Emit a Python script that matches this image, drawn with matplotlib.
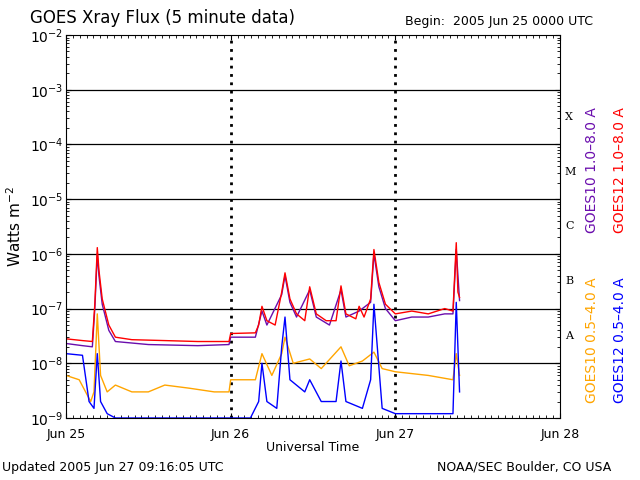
import matplotlib
matplotlib.use("Agg")
import matplotlib.pyplot as plt
import numpy as np

# time in days since 2005 Jun 25 00:00 UTC, flux in W/m^2 (key points)
g12_long_t = [0.0, 0.10, 0.16, 0.175, 0.19, 0.20, 0.22, 0.26, 0.30, 0.40, 0.60, 0.80, 0.99,
              1.00, 1.15, 1.17, 1.19, 1.22, 1.27, 1.31, 1.33, 1.36, 1.40, 1.45, 1.48, 1.52,
              1.58, 1.64, 1.67, 1.70, 1.76, 1.78, 1.81, 1.85, 1.87, 1.90, 1.94, 2.00,
              2.10, 2.20, 2.30, 2.35, 2.37, 2.38, 2.39]
g12_long_v = [2.8e-8, 2.6e-8, 2.5e-8, 1.2e-7, 1.3e-6, 5e-7, 1.5e-7, 5e-8, 3e-8, 2.7e-8, 2.6e-8, 2.5e-8, 2.5e-8,
              3.5e-8, 3.6e-8, 5e-8, 1.1e-7, 6e-8, 5e-8, 2e-7, 4.5e-7, 1.5e-7, 8e-8, 6e-8, 2.5e-7, 8e-8,
              6e-8, 6e-8, 2.6e-7, 8e-8, 6.5e-8, 1.1e-7, 7e-8, 1.5e-7, 1.2e-6, 3e-7, 1.2e-7, 8e-8,
              9e-8, 8e-8, 1e-7, 9e-8, 1.6e-6, 2e-7, 1.6e-7]
g10_long_t = [0.0, 0.10, 0.16, 0.175, 0.19, 0.20, 0.22, 0.26, 0.30, 0.50, 0.80, 0.99,
              1.00, 1.15, 1.19, 1.22, 1.31, 1.33, 1.36, 1.40, 1.48, 1.52, 1.60, 1.67, 1.70,
              1.78, 1.85, 1.87, 1.90, 1.94, 2.00, 2.10, 2.20, 2.30, 2.35, 2.37, 2.39]
g10_long_v = [2.3e-8, 2.1e-8, 2.0e-8, 1.0e-7, 1.0e-6, 4e-7, 1.2e-7, 4e-8, 2.5e-8, 2.2e-8, 2.1e-8, 2.2e-8,
              3e-8, 3e-8, 9e-8, 5e-8, 1.8e-7, 4e-7, 1.3e-7, 7e-8, 2.2e-7, 7e-8, 5e-8, 2.2e-7, 7e-8,
              9e-8, 1.3e-7, 1.0e-6, 2.5e-7, 1e-7, 6e-8, 7e-8, 7e-8, 8e-8, 8e-8, 1.2e-6, 1.4e-7]
g10_short_t = [0.0, 0.08, 0.15, 0.17, 0.19, 0.21, 0.25, 0.30, 0.40, 0.50, 0.60, 0.75, 0.90, 0.99,
               1.00, 1.15, 1.19, 1.25, 1.31, 1.33, 1.38, 1.48, 1.55, 1.67, 1.72, 1.80, 1.87, 1.92,
               2.00, 2.20, 2.35, 2.37, 2.39]
g10_short_v = [6e-9, 5e-9, 2e-9, 3e-9, 8e-8, 6e-9, 3e-9, 4e-9, 3e-9, 3e-9, 4e-9, 3.5e-9, 3e-9, 3e-9,
               5e-9, 5e-9, 1.5e-8, 6e-9, 1.5e-8, 3e-8, 1e-8, 1.2e-8, 8e-9, 2e-8, 9e-9, 1.1e-8, 1.6e-8, 8e-9,
               7e-9, 6e-9, 5e-9, 1.5e-8, 6e-9]
g12_short_t = [0.0, 0.10, 0.14, 0.17, 0.19, 0.21, 0.25, 0.30, 0.50, 0.70, 0.99,
               1.00, 1.12, 1.17, 1.19, 1.22, 1.28, 1.31, 1.33, 1.36, 1.45, 1.48, 1.55, 1.64, 1.67, 1.70,
               1.80, 1.85, 1.87, 1.92, 2.00, 2.20, 2.35, 2.37, 2.39]
g12_short_v = [1.5e-8, 1.4e-8, 2e-9, 1.5e-9, 1.5e-8, 2e-9, 1.2e-9, 1e-9, 1e-9, 1e-9, 1e-9,
               1e-9, 1e-9, 2e-9, 1e-8, 2e-9, 1.5e-9, 2e-8, 7e-8, 5e-9, 3e-9, 5e-9, 2e-9, 2e-9, 1.1e-8, 2e-9,
               1.5e-9, 5e-9, 1.2e-7, 1.5e-9, 1.2e-9, 1.2e-9, 1.2e-9, 1.3e-7, 3e-9]

day_labels = ["Jun 25", "Jun 26", "Jun 27", "Jun 28"]
classes = ["A", "B", "C", "M", "X"]

fig = plt.figure(figsize=(6.4, 4.8), dpi=100)
ax = fig.add_axes([66/640, 62/480, 494/640, 383/480])
ax.set_yscale("log")
ax.set_ylim(1e-9, 1e-2)
ax.set_xlim(0, 3)

for e in range(-8, -2):
    ax.axhline(10.0**e, color="black", lw=0.9)
for d in [1, 2]:
    ax.axvline(d, color="black", lw=2, ls=(0, (1, 2)))

ax.plot(g10_short_t, g10_short_v, color="orange", lw=1)
ax.plot(g12_short_t, g12_short_v, color="blue", lw=1)
ax.plot(g10_long_t, g10_long_v, color="#6a0dad", lw=1)
ax.plot(g12_long_t, g12_long_v, color="red", lw=1)

ax.set_xticks(range(4))
ax.set_xticklabels(day_labels, fontsize=9)
ax.set_xticks(np.arange(0, 3, 1/24), minor=True)
ax.tick_params(which="both", direction="in", top=True, right=True)
ax.tick_params(axis="x", pad=7)
ax.set_yticks([10.0**e for e in range(-9, -1)])
ax.set_xlabel("Universal Time", fontsize=9, labelpad=0)
ax.set_ylabel("Watts m$^{-2}$", fontsize=11)
ax.tick_params(axis="y", labelsize=10, pad=2)

for i, c in enumerate(classes):
    ax.text(3.03, 10.0**(-7.5 + i), c, fontsize=8, family="serif", va="center", ha="left", transform=ax.transData, clip_on=False)

fig.text(30/640, 1 - 18/480, "GOES Xray Flux (5 minute data)", fontsize=12, va="center")
fig.text(405/640, 1 - 22/480, "Begin:  2005 Jun 25 0000 UTC", fontsize=9, va="center")
fig.text(2/640, 1 - 467/480, "Updated 2005 Jun 27 09:16:05 UTC", fontsize=9, va="center")
fig.text(437/640, 1 - 467/480, "NOAA/SEC Boulder, CO USA", fontsize=9, va="center")

fig.text(592/640, 1 - 170/480, "GOES10 1.0\u20138.0 A", color="#6a0dad", rotation=90, fontsize=10, ha="center", va="center")
fig.text(620/640, 1 - 170/480, "GOES12 1.0\u20138.0 A", color="red", rotation=90, fontsize=10, ha="center", va="center")
fig.text(592/640, 1 - 340/480, "GOES10 0.5\u20134.0 A", color="orange", rotation=90, fontsize=10, ha="center", va="center")
fig.text(620/640, 1 - 340/480, "GOES12 0.5\u20134.0 A", color="blue", rotation=90, fontsize=10, ha="center", va="center")

fig.savefig("out.png", dpi=100)
